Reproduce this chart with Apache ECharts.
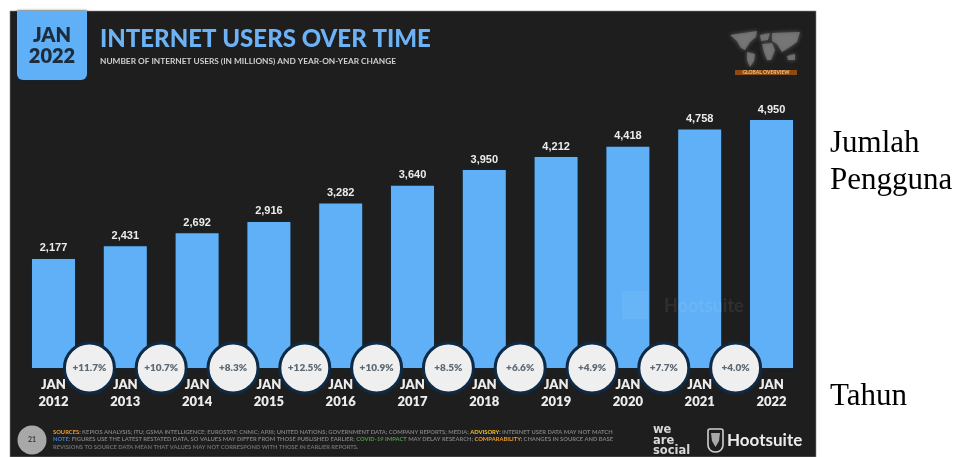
<!DOCTYPE html>
<html>
<head>
<meta charset="utf-8">
<style>
  html, body { margin: 0; padding: 0; background: #fff; }
  #chart { width: 961px; height: 457px; }
</style>
<script src="https://cdn.jsdelivr.net/npm/echarts@6/dist/echarts.min.js"></script>
</head>
<body>
<div id="chart"></div>
<script>
// Internet users per year, in millions
const years = ['2012', '2013', '2014', '2015', '2016', '2017', '2018', '2019', '2020', '2021', '2022'];
const users = [2177, 2431, 2692, 2916, 3282, 3640, 3950, 4212, 4418, 4758, 4950];
// Year-on-year change shown between each pair of neighbouring bars
const growth = ['+11.7%', '+10.7%', '+8.3%', '+12.5%', '+10.9%', '+8.5%', '+6.6%', '+4.9%', '+7.7%', '+4.0%'];

const growthPoints = growth.map((g, i) => ({ value: [i + 1, 0], label: { formatter: g } }));

const BLUE = '#5fb0f6';
const WHITE = '#ececec';
const GEO = '"Lato", "Inter", sans-serif';

// Simplified continents for the small world map in the corner
const landShapes = [
  [[730, 35], [757, 31], [756, 37], [750, 42], [745, 50], [741, 48], [737, 41]],
  [[747, 52], [755, 54], [754, 61], [750, 67], [747, 60]],
  [[760, 35], [770, 33], [768, 40], [761, 41]],
  [[762, 44], [772, 43], [775, 50], [771, 60], [767, 60], [764, 52]],
  [[772, 33], [800, 32], [797, 42], [790, 47], [782, 52], [777, 44], [772, 41]],
  [[787, 56], [795, 54], [795, 60], [788, 60]]
];
const landGraphics = landShapes.map(points => ({
  type: 'polygon',
  shape: { points },
  style: { fill: '#7c7c7c', shadowColor: '#7c7c7c', shadowBlur: 4, opacity: 0.75 }
}));

const text = (x, y, t, style, extra) => Object.assign({
  type: 'text', x, y,
  style: Object.assign({ text: t, verticalAlign: 'middle' }, style)
}, extra || {});

const finePrint = [
  { y: 432, parts: [
    ['SOURCES:', '#f09a2c'],
    [' KEPIOS ANALYSIS; ITU; GSMA INTELLIGENCE; EUROSTAT; CNNIC; APJII; UNITED NATIONS; GOVERNMENT DATA; COMPANY REPORTS; MEDIA; ', '#7e7e7e'],
    ['ADVISORY:', '#f2c230'],
    [' INTERNET USER DATA MAY NOT MATCH', '#7e7e7e']
  ] },
  { y: 439.5, parts: [
    ['NOTE:', '#3f7fd0'],
    [' FIGURES USE THE LATEST RESTATED DATA, SO VALUES MAY DIFFER FROM THOSE PUBLISHED EARLIER; ', '#7e7e7e'],
    ['COVID-19 IMPACT', '#4f9a4a'],
    [' MAY DELAY RESEARCH; ', '#7e7e7e'],
    ['COMPARABILITY:', '#f09a2c'],
    [' CHANGES IN SOURCE AND BASE', '#7e7e7e']
  ] },
  { y: 447, parts: [
    ['REVISIONS TO SOURCE DATA MEAN THAT VALUES MAY NOT CORRESPOND WITH THOSE IN EARLIER REPORTS.', '#6e6e6e']
  ] }
];
const finePrintGraphics = finePrint.map(line => {
  const rich = {};
  const content = line.parts.map((p, i) => {
    rich['p' + i] = { fill: p[1], font: 'bold 5.8px ' + GEO };
    return '{p' + i + '|' + p[0] + '}';
  }).join('');
  return text(53, line.y, content, { rich, font: 'bold 5.8px ' + GEO });
});

const chart = echarts.init(document.getElementById('chart'), null, { renderer: 'canvas' });

chart.setOption({
  animation: false,
  backgroundColor: '#ffffff',
  grid: { left: 17.6, right: 153.6, top: 117.5, bottom: 89, containLabel: false },
  xAxis: [
    {
      type: 'category',
      data: years,
      z: 3,
      axisLine: { show: false },
      axisTick: { show: false },
      axisLabel: {
        interval: 0,
        margin: 8,
        color: WHITE,
        fontFamily: GEO,
        fontWeight: 800,
        fontSize: 13,
        lineHeight: 17,
        formatter: v => 'JAN\n' + v
      }
    },
    { type: 'value', min: 0, max: years.length, show: false }
  ],
  yAxis: { type: 'value', min: 0, max: 5000, show: false },
  graphic: [
    // Dark panel, date badge and headings
    { type: 'rect', shape: { x: 10, y: 11, width: 806, height: 446 }, style: { fill: '#1e1e1e', stroke: '#8c8c8c', lineWidth: 0.6 } },
    { type: 'rect', shape: { x: 17, y: 11, width: 70, height: 69, r: [0, 0, 6, 6] }, style: { fill: BLUE, shadowColor: '#0f2c47', shadowBlur: 3 } },
    text(52, 36, 'JAN', { fill: '#1d2c3c', font: '800 20px ' + GEO, align: 'center' }),
    text(52, 57, '2022', { fill: '#1d2c3c', font: '800 20px ' + GEO, align: 'center' }),
    text(100, 39, 'INTERNET USERS OVER TIME', { fill: '#6cb2f4', font: '900 24px ' + GEO }),
    text(100, 61, 'NUMBER OF INTERNET USERS (IN MILLIONS) AND YEAR-ON-YEAR CHANGE', { fill: '#d0d0d0', font: 'bold 8.3px ' + GEO }),

    // Corner world map and its caption bar
    ...landGraphics,
    { type: 'rect', shape: { x: 735, y: 70, width: 62, height: 5 }, style: { fill: '#8f4a12' } },
    text(766, 72.8, 'GLOBAL OVERVIEW', { fill: '#e7c48a', font: 'bold 5px ' + GEO, align: 'center' }),

    // Faint branding across the last bars
    { type: 'rect', z: 10, shape: { x: 622, y: 291, width: 26, height: 28 }, style: { fill: '#ffffff', opacity: 0.05 } },
    text(664, 306, 'Hootsuite', { fill: '#ffffff', opacity: 0.08, font: 'bold 18px ' + GEO }, { z: 10 }),

    // Footer: page number, fine print and logos
    { type: 'circle', shape: { cx: 32, cy: 440, r: 14.5 }, style: { fill: '#a8a8a8' } },
    text(32, 440, '21', { fill: '#3a3a3a', font: 'bold 7px ' + GEO, align: 'center' }),
    ...finePrintGraphics,
    text(653, 430, 'we', { fill: '#d8d8d8', font: 'bold 11.5px "DejaVu Sans"' }),
    text(653, 441, 'are', { fill: '#d8d8d8', font: 'bold 11.5px "DejaVu Sans"' }),
    text(653, 451, 'social', { fill: '#d8d8d8', font: 'bold 11.5px "DejaVu Sans"' }),
    { type: 'rect', shape: { x: 708, y: 429, width: 15, height: 23, r: [2, 2, 7, 7] }, style: { fill: 'none', stroke: '#cfcfcf', lineWidth: 1.6 } },
    { type: 'polygon', shape: { points: [[711, 433], [720, 433], [719, 441], [715.5, 447], [712, 441]] }, style: { fill: '#a8a8a8' } },
    text(727, 441, 'Hootsuite', { fill: WHITE, font: 'bold 17px ' + GEO }),

    // Captions outside the panel
    text(830, 143.5, 'Jumlah', { fill: '#000000', font: '31px "Liberation Serif"' }),
    text(830, 180.5, 'Pengguna', { fill: '#000000', font: '31px "Liberation Serif"' }),
    text(830, 396.5, 'Tahun', { fill: '#000000', font: '31px "Liberation Serif"' })
  ],
  series: [
    {
      type: 'bar',
      data: users,
      barWidth: 43,
      z: 2,
      itemStyle: { color: BLUE, shadowColor: '#0f2c47', shadowBlur: 3 },
      label: {
        show: true,
        position: 'top',
        distance: 5,
        color: WHITE,
        fontFamily: '"Liberation Sans", sans-serif',
        fontWeight: 'bold',
        fontSize: 11,
        formatter: p => p.value.toLocaleString('en-US')
      }
    },
    {
      type: 'scatter',
      xAxisIndex: 1,
      data: growthPoints,
      symbol: 'circle',
      symbolSize: 50,
      z: 5,
      clip: false,
      silent: true,
      itemStyle: { color: '#efefef', borderColor: '#0e2a44', borderWidth: 3, opacity: 1 },
      label: {
        show: true,
        position: 'inside',
        color: '#5c6873',
        fontFamily: GEO,
        fontWeight: 800,
        fontSize: 10
      }
    }
  ]
});
</script>
</body>
</html>
